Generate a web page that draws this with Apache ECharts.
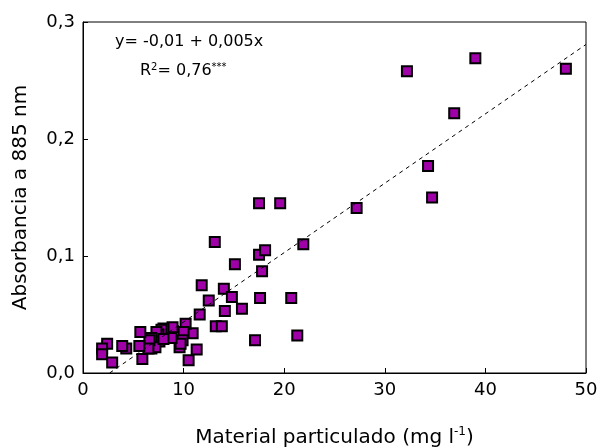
<!DOCTYPE html>
<html>
<head>
<meta charset="utf-8">
<script src="https://cdn.jsdelivr.net/npm/echarts@6/dist/echarts.min.js"></script>
<style>
  html, body { margin: 0; padding: 0; background: #fff; }
  #chart { width: 600px; height: 447px; }
</style>
</head>
<body>
<div id="chart"></div>
<script>
// Suspended particulate matter (mg/l) vs absorbance at 885 nm
const particulate = [
  48.0, 39.0, 32.2, 36.9, 34.3, 34.7, 27.2,
  17.5, 19.6, 13.1, 21.9, 17.5, 18.1, 15.1, 17.8,
  11.8, 14.0, 14.8, 12.5, 17.6, 20.7, 15.8, 14.1, 11.6, 13.2, 13.8, 17.1, 21.3,
  11.3, 10.5, 10.9, 10.2, 10.0, 9.9, 9.6, 9.7, 8.9, 8.8, 8.0, 7.8, 7.5, 7.3,
  7.6, 6.8, 6.8, 7.2, 6.6, 6.5, 5.7, 5.6, 5.9, 4.3, 3.9, 2.4, 1.9, 1.9, 2.9, 8.0
];
const absorbance = [
  0.260, 0.269, 0.258, 0.222, 0.177, 0.150, 0.141,
  0.145, 0.145, 0.112, 0.110, 0.101, 0.105, 0.093, 0.087,
  0.075, 0.072, 0.065, 0.062, 0.064, 0.064, 0.055, 0.053, 0.050, 0.040, 0.040, 0.028, 0.032,
  0.020, 0.011, 0.034, 0.042, 0.035, 0.028, 0.022, 0.025, 0.039, 0.030, 0.038, 0.037, 0.033, 0.035,
  0.027, 0.030, 0.021, 0.022, 0.028, 0.021, 0.035, 0.023, 0.012, 0.021, 0.023, 0.025, 0.021, 0.016, 0.009, 0.029
];

// Linear fit coefficients (label shows them truncated)
const fitIntercept = -0.0157;
const fitSlope = 0.00593;
const r2 = 0.76;

const xTicks = [0, 10, 20, 30, 40, 50];
const yTicks = [0.0, 0.1, 0.2, 0.3];

const points = particulate.map((x, i) => [x, absorbance[i]]);
const xStart = -fitIntercept / fitSlope;
const xEnd = xTicks[xTicks.length - 1];
const fitLine = [[xStart, 0], [xEnd, fitIntercept + fitSlope * xEnd]];

const trunc = (v, d) => { const f = Math.pow(10, d); return Math.trunc(v * f) / f; };
const comma = s => String(s).replace('.', ',');
const eqText = 'y= ' + comma(trunc(fitIntercept, 2).toFixed(2)) + ' + ' + comma(trunc(fitSlope, 3).toFixed(3)) + 'x';

const FONT = 'DejaVu Sans';
const chart = echarts.init(document.getElementById('chart'));
chart.setOption({
  animation: false,
  backgroundColor: '#fff',
  grid: {
    left: 83, right: 14, top: 22, bottom: 74,
    containLabel: false, outerBoundsMode: 'none',
    show: true, borderColor: '#000', borderWidth: 1
  },
  xAxis: {
    type: 'value', min: xTicks[0], max: xEnd, interval: 10,
    axisLine: { show: true, lineStyle: { color: '#000', width: 1 } },
    axisTick: { show: true, inside: true, length: 5, lineStyle: { color: '#000' } },
    axisLabel: { color: '#000', fontFamily: FONT, fontSize: 18, margin: 8 },
    splitLine: { show: false },
    name: 'Material particulado (mg l{sup|-1})',
    nameLocation: 'middle', nameGap: 53,
    nameTextStyle: {
      color: '#000', fontFamily: FONT, fontSize: 20,
      rich: { sup: { fontSize: 12, verticalAlign: 'top', padding: [0, 0, 12, 0], fontFamily: FONT, color: '#000' } }
    }
  },
  yAxis: {
    type: 'value', min: yTicks[0], max: yTicks[yTicks.length - 1], interval: 0.1,
    axisLine: { show: true, lineStyle: { color: '#000', width: 1 } },
    axisTick: { show: true, inside: true, length: 5, lineStyle: { color: '#000' } },
    axisLabel: { color: '#000', fontFamily: FONT, fontSize: 18, margin: 8, formatter: v => comma(v.toFixed(1)) },
    splitLine: { show: false },
    name: 'Absorbancia a 885 nm',
    nameLocation: 'middle', nameGap: 52,
    nameTextStyle: { color: '#000', fontFamily: FONT, fontSize: 20 }
  },
  graphic: [
    {
      type: 'text', left: 115, top: 34,
      style: { text: eqText, fill: '#000', font: '16px "DejaVu Sans"' }
    },
    {
      type: 'text', left: 140, top: 62,
      style: {
        text: 'R{sup|2}= ' + comma(r2.toFixed(2)) + '{sup|***}',
        fill: '#000', font: '16px "DejaVu Sans"',
        rich: { sup: { fontSize: 10, fontFamily: FONT, fill: '#000', verticalAlign: 'top', padding: [0, 0, 8, 0] } }
      }
    }
  ],
  series: [
    {
      type: 'scatter', data: points, symbol: 'rect', symbolSize: 10, z: 2,
      itemStyle: { color: '#a000a8', borderColor: '#000', borderWidth: 2, opacity: 1 }
    },
    {
      type: 'line', data: fitLine, showSymbol: false, symbol: 'none', z: 3,
      lineStyle: { color: '#000', width: 1, type: [4, 4] }, silent: true
    }
  ]
});
</script>
</body>
</html>
